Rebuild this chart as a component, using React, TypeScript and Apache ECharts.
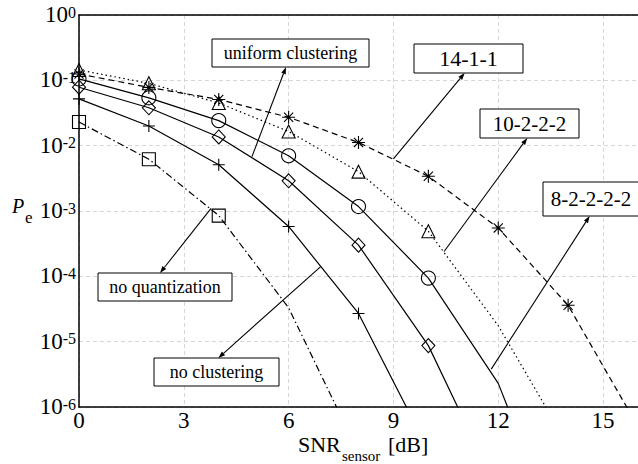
import { useEffect, useRef } from "react";
import * as echarts from "echarts";

// SNR grid (dB) shared by every curve; each curve lists Pe at these points.
const snr = [0, 2, 4, 6, 8, 10, 12, 14, 16];

const pe14_1_1 = [0.125, 0.078, 0.051, 0.0272, 0.0112, 0.0034, 5.5e-4, 3.6e-5, 5e-7];
const pe10_2_2_2 = [0.144, 0.09, 0.045, 0.0165, 0.004, 4.9e-4, 1.75e-5, 2.6e-7];
const pe8_2_2_2_2 = [0.105, 0.054, 0.0242, 0.007, 1.17e-3, 9.4e-5, 2.3e-6, 4.5e-9];
const peUniform = [0.0785, 0.038, 0.0136, 0.0029, 3.0e-4, 8.7e-6, 5e-8];
const peNoClustering = [0.052, 0.02, 0.0051, 5.8e-4, 2.7e-5, 2.2e-7];
const peNoQuantization = [0.023, 0.0062, 8.5e-4, 3.3e-5, 2e-7];

// how many leading points of each curve carry a marker
const markedPoints = { a: 8, b: 6, c: 6, d: 6, e: 5, f: 3 };

const xTickStep = 3;
const yMinExp = -6;

const SERIF = "'Liberation Serif', serif";

const PLUS = "path://M0,-10L0,10M-10,0L10,0";
const STAR = "path://M0,-10L0,10M-10,0L10,0M-7,-7L7,7M-7,7L7,-7";

type Note = {
  text: string;
  font: number;
  box: [number, number, number, number];
  tail: [number, number]; // [SNR, Pe] on the curve
  head: [number, number]; // pixel point on the box edge
};

const notes: Note[] = [
  { text: "uniform clustering", font: 18, box: [212, 39, 157, 28], tail: [4.95, 0.0068], head: [286, 67] },
  { text: "14-1-1", font: 22, box: [414, 44, 109, 29], tail: [9, 0.0063], head: [464.7, 73] },
  { text: "10-2-2-2", font: 21, box: [480, 109, 99, 29], tail: [10.45, 2.4e-4], head: [527.3, 138] },
  { text: "8-2-2-2-2", font: 21, box: [543, 182, 96, 34], tail: [11.8, 3.8e-6], head: [589.7, 216] },
  { text: "no quantization", font: 18, box: [98, 273, 134, 28], tail: [3.78, 1.1e-3], head: [160, 273] },
  { text: "no clustering", font: 18, box: [154, 358, 125, 28], tail: [6.91, 1.4e-4], head: [218.3, 358] },
];

function makeSeries(
  name: string,
  values: number[],
  marks: number,
  symbol: string,
  symbolSize: number | number[],
  dash: "solid" | number[]
) {
  return {
    name,
    type: "line",
    data: values.map((v, i) =>
      i < marks ? { value: [snr[i], v] } : { value: [snr[i], v], symbol: "none" }
    ),
    symbol,
    symbolSize,
    showSymbol: true,
    clip: true,
    lineStyle: { color: "#000", width: 1.2, type: dash },
    itemStyle: { color: "rgba(0,0,0,0)", borderColor: "#000", borderWidth: 1.1 },
    emphasis: { disabled: true },
    z: 3,
  };
}

const gridLine = { show: true, lineStyle: { color: "#d6d6d6", type: [4, 3], width: 1 } };
const frameLine = { show: true, lineStyle: { color: "#000", width: 1.5 } };

export default function App() {
  const ref = useRef<HTMLDivElement>(null);

  useEffect(() => {
    if (!ref.current) return;
    const chart = echarts.init(ref.current, null, { renderer: "svg" });

    chart.setOption({
      animation: false,
      backgroundColor: "#fff",
      textStyle: { fontFamily: SERIF },
      grid: { left: 79, top: 15, bottom: 57, right: -10.6 },
      xAxis: [
        {
          type: "value",
          min: 0,
          max: 16,
          interval: xTickStep,
          axisLine: { ...frameLine, onZero: false },
          axisTick: { show: false },
          splitLine: gridLine,
          axisLabel: {
            showMaxLabel: false,
            margin: 2,
            color: "#000",
            fontFamily: SERIF,
            fontSize: 23,
            lineHeight: 22,
          },
        },
        {
          type: "value",
          position: "top",
          min: 0,
          max: 16,
          interval: xTickStep,
          axisLine: { ...frameLine, onZero: false },
          axisTick: { show: false },
          splitLine: { show: false },
          axisLabel: { show: false },
        },
      ],
      yAxis: {
        type: "log",
        logBase: 10,
        min: Math.pow(10, yMinExp),
        max: 1,
        axisLine: { ...frameLine, onZero: false },
        axisTick: { show: false },
        splitLine: gridLine,
        axisLabel: {
          margin: 3,
          fontFamily: SERIF,
          formatter: (v: number) => `{b|10}{s|${Math.round(Math.log10(v))}}`,
          rich: {
            b: { fontFamily: SERIF, fontSize: 23, color: "#000", lineHeight: 22, verticalAlign: "bottom" },
            s: {
              fontFamily: SERIF,
              fontSize: 16,
              color: "#000",
              lineHeight: 16,
              padding: [0, 0, 10, 0],
              verticalAlign: "top",
            },
          },
        },
      },
      series: [
        makeSeries("14-1-1", pe14_1_1, markedPoints.a, STAR, 13, [6, 4]),
        makeSeries("10-2-2-2", pe10_2_2_2, markedPoints.b, "triangle", 13, [1.5, 3]),
        makeSeries("8-2-2-2-2", pe8_2_2_2_2, markedPoints.c, "circle", 14, "solid"),
        makeSeries("uniform clustering", peUniform, markedPoints.d, "diamond", [13, 14], "solid"),
        makeSeries("no clustering", peNoClustering, markedPoints.e, PLUS, 12, "solid"),
        makeSeries("no quantization", peNoQuantization, markedPoints.f, "rect", 13, [7, 3, 1.5, 3]),
      ],
    });

    const graphics: any[] = [];
    notes.forEach((n) => {
      const [bx, by, bw, bh] = n.box;
      const t = chart.convertToPixel({ gridIndex: 0 }, n.tail) as number[];
      const [hx, hy] = n.head;
      const dx = hx - t[0];
      const dy = hy - t[1];
      const len = Math.hypot(dx, dy);
      const ux = dx / len;
      const uy = dy / len;
      const bxp = hx - ux * 7;
      const byp = hy - uy * 7;
      graphics.push({
        type: "line",
        z: 50,
        shape: { x1: t[0], y1: t[1], x2: bxp, y2: byp },
        style: { stroke: "#000", lineWidth: 1.1 },
      });
      graphics.push({
        type: "polygon",
        z: 50,
        shape: {
          points: [
            [hx, hy],
            [bxp - uy * 2.4, byp + ux * 2.4],
            [bxp + uy * 2.4, byp - ux * 2.4],
          ],
        },
        style: { fill: "#000" },
      });
      graphics.push({
        type: "rect",
        z: 51,
        shape: { x: bx, y: by, width: bw, height: bh },
        style: { fill: "#fff", stroke: "#000", lineWidth: 1 },
      });
      graphics.push({
        type: "text",
        z: 52,
        style: {
          text: n.text,
          x: bx + bw / 2,
          y: by + bh / 2,
          textAlign: "center",
          textVerticalAlign: "middle",
          fontFamily: SERIF,
          fontSize: n.font,
          fill: "#000",
        },
      });
    });

    // axis titles
    const title = (text: string, x: number, y: number, size: number, italic = false) => ({
      type: "text",
      z: 60,
      style: {
        text,
        x,
        y,
        textVerticalAlign: "middle",
        fontFamily: SERIF,
        fontSize: size,
        fontStyle: italic ? "italic" : "normal",
        fill: "#000",
      },
    });
    graphics.push(
      title("P", 12, 206, 20, true),
      title("e", 25, 217, 17),
      title("SNR", 298, 444, 22),
      title("sensor", 342, 455.5, 15),
      title("[dB]", 388, 444, 22)
    );

    chart.setOption({ graphic: graphics });

    return () => chart.dispose();
  }, []);

  return (
    <div
      ref={ref}
      style={{ position: "fixed", left: 0, top: 0, width: 638, height: 464 }}
    />
  );
}
